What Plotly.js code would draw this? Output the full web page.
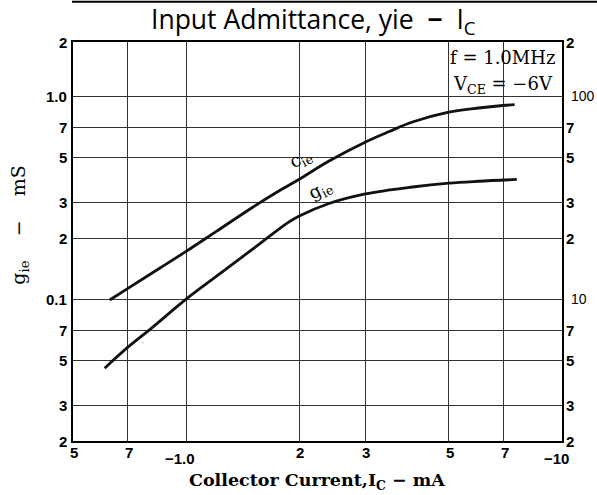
<!DOCTYPE html>
<html>
<head>
<meta charset="utf-8">
<script src="https://cdn.plot.ly/plotly-3.0.1.min.js"></script>
<style>html,body{margin:0;padding:0;background:#fff;}#chart{width:597px;height:495px;}</style>
</head>
<body>
<div id="chart"></div>
<script>
// ---- data ----
var cieCurrent = [0.626, 0.70, 0.85, 1.0, 1.2, 1.5, 1.76, 2.0, 2.4, 3.03, 3.47, 4.0, 4.93, 6.0, 6.95, 7.48];
var ciePF      = [9.9, 11.3, 14.2, 17.2, 21.5, 28.3, 34.0, 39.0, 47.9, 60, 67, 74.6, 83, 87.5, 90, 90.8];
var gieCurrent = [0.607, 0.70, 0.80, 1.0, 1.2, 1.5, 1.87, 2.0, 2.4, 3.0, 4.0, 5.0, 6.0, 7.58];
var gieMS      = [0.0457, 0.058, 0.0708, 0.100, 0.129, 0.176, 0.239, 0.257, 0.296, 0.330, 0.357, 0.373, 0.381, 0.389];

var xGrid = [0.7, 1, 2, 3, 5, 7];
var yGrid = [0.03, 0.05, 0.07, 0.1, 0.2, 0.3, 0.5, 0.7, 1.0];
var xTickVals = [0.5, 0.7, 1, 2, 3, 5, 7, 10];
var xTickText = ['5', '7', '\u22121.0', '2', '3', '5', '7', '\u221210'];
var leftTickVals = [1.0, 0.7, 0.5, 0.3, 0.2, 0.1, 0.07, 0.05, 0.03, 0.02];
var leftTickText = ['1.0', '7', '5', '3', '2', '0.1', '7', '5', '3', '2'];
var rightTickVals = [100, 70, 50, 30, 20, 10, 7, 5, 3, 2];
var rightTickText = ['100', '7', '5', '3', '2', '10', '7', '5', '3', '2'];
var topLeftLabel = '2', topRightLabel = '2';
var boldLines = {y: [0.1, 1.0], x: [1.0]};

var L = Math.log10;
var tickFont = {family: 'Liberation Sans, DejaVu Sans, sans-serif', size: 15, color: '#000'};
var smallFont = {family: 'Liberation Sans, DejaVu Sans, sans-serif', size: 14, color: '#000'};
var serif = 'DejaVu Serif, Liberation Serif, serif';

var traces = [
  {x: cieCurrent, y: ciePF, yaxis: 'y2', mode: 'lines', line: {color: '#111', width: 2.8, shape: 'spline', smoothing: 1}, hoverinfo: 'none'},
  {x: gieCurrent, y: gieMS, yaxis: 'y', mode: 'lines', line: {color: '#111', width: 2.8, shape: 'spline', smoothing: 1}, hoverinfo: 'none'}
];

var ann = [];
leftTickVals.forEach(function (v, i) {
  ann.push({xref: 'paper', yref: 'y', x: 0, y: L(v), xanchor: 'right', yanchor: 'middle', xshift: -4,
    text: '<b>' + leftTickText[i] + '</b>', showarrow: false, font: tickFont});
});
ann.push({xref: 'paper', yref: 'paper', x: 0, y: 1, xanchor: 'right', yanchor: 'middle', xshift: -4,
  text: '<b>' + topLeftLabel + '</b>', showarrow: false, font: tickFont});
rightTickVals.forEach(function (v, i) {
  var t = rightTickText[i];
  var wide = t.length > 1;
  ann.push({xref: 'paper', yref: 'y2', x: 1, y: L(v), xanchor: 'left', yanchor: 'middle', xshift: wide ? 7 : 2,
    text: wide ? t : '<b>' + t + '</b>', showarrow: false, font: wide ? smallFont : tickFont});
});
ann.push({xref: 'paper', yref: 'paper', x: 1, y: 1, xanchor: 'left', yanchor: 'middle', xshift: 2,
  text: '<b>' + topRightLabel + '</b>', showarrow: false, font: tickFont});
xTickVals.forEach(function (v, i) {
  var t = xTickText[i];
  var low = t.charAt(0) === '\u2212';
  ann.push({xref: 'x', yref: 'paper', x: L(v), y: 0, xanchor: 'center', yanchor: 'top', yshift: low ? -7 : -1,
    xshift: low ? -6 : 1,
    text: '<b>' + t + '</b>', showarrow: false, font: tickFont});
});
// title
ann.push({xref: 'paper', yref: 'paper', x: 0.492, y: 1, yanchor: 'bottom', yshift: 0, showarrow: false,
  text: 'Input Admittance, yie  <b>\u2212</b>  I<sub>C</sub>',
  font: {family: 'Open Sans, DejaVu Sans, sans-serif', size: 26.5, color: '#000'}});
// x title
ann.push({xref: 'paper', yref: 'paper', x: 0.499, y: 0, yanchor: 'top', yshift: -27, showarrow: false,
  text: '<b>Collector Current,I<sub>C</sub> \u2212 mA</b>',
  font: {family: serif, size: 17.5, color: '#000'}});
// y title
ann.push({xref: 'paper', yref: 'paper', x: 0, y: 0.542, xanchor: 'center', xshift: -53, showarrow: false, textangle: -90,
  text: 'g<sub>ie</sub>    \u2212    mS',
  font: {family: serif, size: 19, color: '#000'}});
// conditions box
ann.push({xref: 'paper', yref: 'paper', x: 1, y: 1, xanchor: 'right', yanchor: 'top', xshift: -5, yshift: -3, showarrow: false,
  text: 'f = 1.0MHz', font: {family: serif, size: 18, color: '#000'}});
ann.push({xref: 'paper', yref: 'paper', x: 1, y: 1, xanchor: 'right', yanchor: 'top', xshift: -7, yshift: -29, showarrow: false,
  text: 'V<sub>CE</sub> = \u22126V', font: {family: serif, size: 18, color: '#000'}});
// curve labels
ann.push({xref: 'x', yref: 'y', x: L(2.02), y: L(0.49), showarrow: false, textangle: -27,
  text: 'c<sub>ie</sub>', font: {family: serif, size: 18, color: '#000'}});
ann.push({xref: 'x', yref: 'y', x: L(2.28), y: L(0.345), showarrow: false, textangle: -27,
  text: 'g<sub>ie</sub>', font: {family: serif, size: 18, color: '#000'}});

var shapes = [];
boldLines.y.forEach(function (v) {
  shapes.push({type: 'line', xref: 'paper', yref: 'y', x0: 0, x1: 1, y0: L(v), y1: L(v), line: {color: '#000', width: 2}, layer: 'below'});
});
boldLines.x.forEach(function (v) {
  shapes.push({type: 'line', xref: 'x', yref: 'paper', x0: L(v), x1: L(v), y0: 0, y1: 1, line: {color: '#000', width: 2}, layer: 'below'});
});
shapes.push({type: 'rect', xref: 'x', yref: 'paper', x0: L(3.8), x1: 0.995, y0: 0.862, y1: 0.995,
  fillcolor: '#fff', line: {width: 0}, layer: 'between'});
shapes.push({type: 'line', xref: 'paper', yref: 'paper', x0: -0.002, x1: 1.08, y0: 1.101, y1: 1.101, line: {color: '#000', width: 2}});

var layout = {
  width: 597, height: 495,
  margin: {l: 73, r: 35, t: 42, b: 54, pad: 0},
  paper_bgcolor: '#fff', plot_bgcolor: '#fff',
  showlegend: false,
  xaxis: {type: 'log', range: [L(0.5), L(10)], tickvals: xGrid, showticklabels: false, ticks: '',
    showgrid: true, gridcolor: '#333', gridwidth: 1, zeroline: false,
    showline: true, mirror: true, linecolor: '#000', linewidth: 2, fixedrange: true},
  yaxis: {type: 'log', range: [L(0.02), L(1.85)], tickvals: yGrid, showticklabels: false, ticks: '',
    showgrid: true, gridcolor: '#333', gridwidth: 1, zeroline: false,
    showline: true, mirror: true, linecolor: '#000', linewidth: 2, fixedrange: true},
  yaxis2: {type: 'log', range: [L(2), L(185)], overlaying: 'y', side: 'right', showgrid: false,
    showticklabels: false, ticks: '', zeroline: false, showline: false, fixedrange: true},
  annotations: ann,
  shapes: shapes
};

Plotly.newPlot('chart', traces, layout, {staticPlot: true, displayModeBar: false});
</script>
</body>
</html>
